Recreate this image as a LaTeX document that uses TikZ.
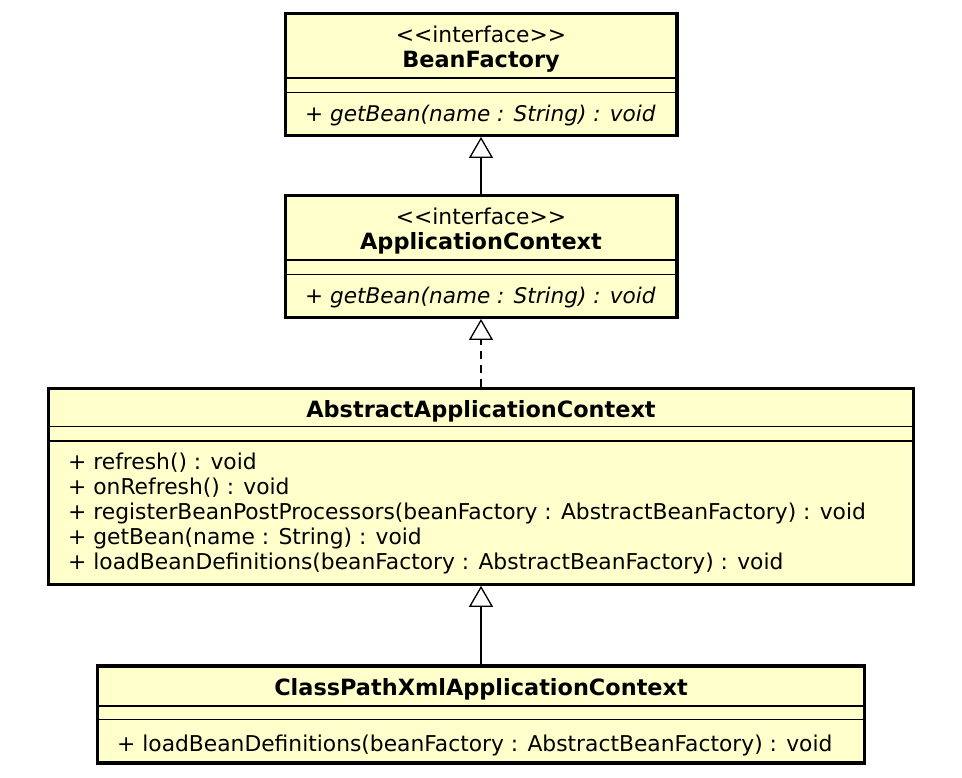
\documentclass[tikz,border=0pt]{standalone}
\usepackage{fontspec}
\setmainfont{DejaVu Sans}
\usetikzlibrary{arrows.meta,positioning}
\definecolor{classfill}{HTML}{FFFFCC}

\begin{document}
\begin{tikzpicture}[x=1pt, y=-1pt, font=\fontsize{21.8}{25}\selectfont,
        classbox/.style={draw, line width=3.3pt, fill=classfill, inner sep=0pt},
        sepline/.style={line width=1.2pt},
        classname/.style={anchor=base, inner sep=0pt},
        boldname/.style={classname, font=\fontsize{22.4}{25}\selectfont\bfseries},
        member/.style={anchor=base west, inner sep=0pt},
        abstractmember/.style={member, font=\fontsize{21.6}{25}\selectfont\itshape},
        inherit/.style={line width=1.4pt, -{Triangle[open, length=21pt, width=24pt, line width=1.3pt, fill=white]}}]
            \useasboundingbox (0,0) rectangle (962,778);
            % classes
            \node[classbox, minimum width=391.7pt, minimum height=121.6pt](bf) at (481,74.5) {};
            \node[classbox, minimum width=391.7pt, minimum height=121.6pt](ac) at (481,256.5) {};
            \node[classbox, minimum width=864.4pt, minimum height=196pt](aac) at (481,486.2) {};
            \node[classbox, minimum width=767pt, minimum height=97pt](cpx) at (481,714.5) {};
            % compartments
            \draw[sepline] (bf.west |- 0,78) -- (bf.east |- 0,78);
            \draw[sepline] (bf.west |- 0,92.5) -- (bf.east |- 0,92.5);
            \draw[sepline] (ac.west |- 0,260) -- (ac.east |- 0,260);
            \draw[sepline] (ac.west |- 0,274.5) -- (ac.east |- 0,274.5);
            \draw[sepline] (aac.west |- 0,426.8) -- (aac.east |- 0,426.8);
            \draw[sepline] (aac.west |- 0,441) -- (aac.east |- 0,441);
            \draw[sepline] (cpx.west |- 0,706) -- (cpx.east |- 0,706);
            \draw[sepline] (cpx.west |- 0,719.3) -- (cpx.east |- 0,719.3);
            % texts
            \node[classname](bf-st) at (481,43) {<{}<interface>{}>};
            \node[boldname](bf-name) at (481,67.5) {BeanFactory};
            \node[abstractmember](bf-m1) at (305,121.5) {+ getBean(name : String) : void};
            \node[classname](ac-st) at (481,225) {<{}<interface>{}>};
            \node[boldname](ac-name) at (481,249.5) {ApplicationContext};
            \node[abstractmember](ac-m1) at (305,303.5) {+ getBean(name : String) : void};
            \node[boldname](aac-name) at (481,417) {AbstractApplicationContext};
            \node[member](aac-m1) at (68,469.5) {+ refresh() : void};
            \node[member](aac-m2) at (68,494.5) {+ onRefresh() : void};
            \node[member](aac-m3) at (68,519.5) {+ registerBeanPostProcessors(beanFactory : AbstractBeanFactory) : void};
            \node[member](aac-m4) at (68,544.5) {+ getBean(name : String) : void};
            \node[member](aac-m5) at (68,569.5) {+ loadBeanDefinitions(beanFactory : AbstractBeanFactory) : void};
            \node[boldname](cpx-name) at (481,695.5) {ClassPathXmlApplicationContext};
            \node[member](cpx-m1) at (117,751) {+ loadBeanDefinitions(beanFactory : AbstractBeanFactory) : void};
            % relations
            \path[inherit]
                (ac.north) edge (bf.south)
                (cpx.north) edge (aac.south);
            \draw[inherit, dash pattern=on 8pt off 6pt] (aac.north) -- (ac.south);
        \end{tikzpicture}
\end{document}
